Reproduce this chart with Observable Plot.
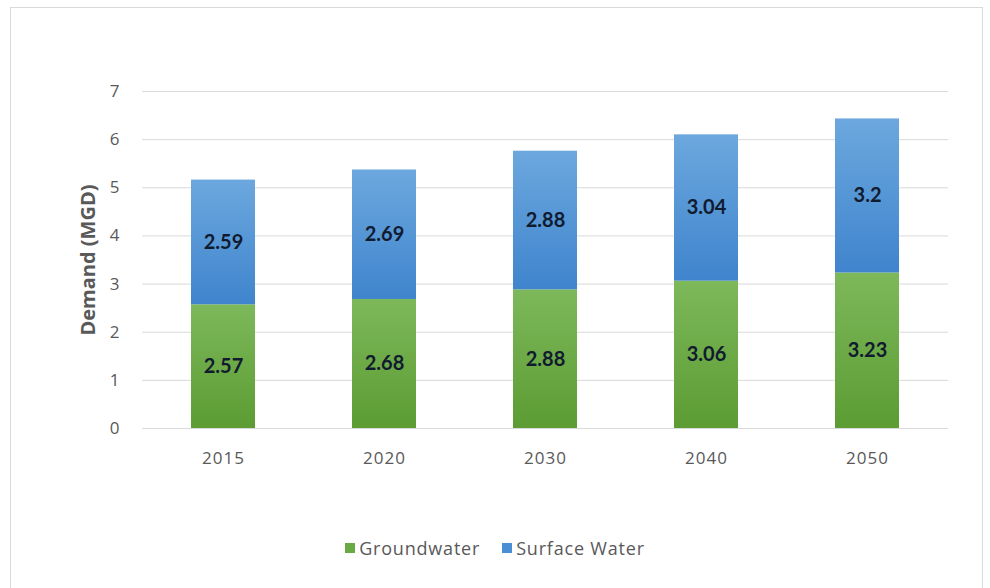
<!DOCTYPE html>
<html>
<head>
<meta charset="utf-8">
<script src="https://cdn.jsdelivr.net/npm/d3@7"></script>
<script src="https://cdn.jsdelivr.net/npm/@observablehq/plot@0.6"></script>
<style>
  html, body { margin: 0; padding: 0; background: #fff; }
  body { width: 990px; height: 588px; position: relative; overflow: hidden; font-family: "Open Sans", sans-serif; }
  #frame { position: absolute; left: 10px; top: 7px; width: 973px; height: 600px; border: 1px solid #d9d9d9; box-sizing: border-box; }
  #chart { position: absolute; left: 0; top: 0; }
  #legend { position: absolute; top: 536px; left: 0; width: 990px; display: flex; justify-content: center; font-size: 18px; color: #595959; letter-spacing: 0.8px; }
  .item { display: flex; align-items: center; margin: 0 11px; }
  .sw { width: 10px; height: 10px; margin-right: 4px; }
  g[aria-label="x-axis tick label"] text, g[aria-label="y-axis tick label"] text { letter-spacing: 1px; }
</style>
</head>
<body>
<div id="frame"></div>
<div id="chart"></div>
<div id="legend"></div>
<script>
const years = ["2015", "2020", "2030", "2040", "2050"];
const groundwater = [2.57, 2.68, 2.88, 3.06, 3.23];
const surfaceWater = [2.59, 2.69, 2.88, 3.04, 3.2];
const seriesNames = ["Groundwater", "Surface Water"];
const yTicks = [0, 1, 2, 3, 4, 5, 6, 7];

const rows = [];
years.forEach((y, i) => {
  rows.push({year: y, series: seriesNames[0], value: groundwater[i]});
  rows.push({year: y, series: seriesNames[1], value: surfaceWater[i]});
});

const fills = {"Groundwater": "url(#gGreen)", "Surface Water": "url(#gBlue)"};

const plot = Plot.plot({
  width: 990,
  height: 500,
  marginTop: 91,
  marginBottom: 72,
  marginLeft: 142,
  marginRight: 42,
  style: {fontFamily: "'Open Sans', sans-serif", background: "transparent"},
  x: {domain: years, paddingInner: 0.6, paddingOuter: 0.3, label: null},
  y: {domain: [0, 7], label: null},
  marks: [
    Plot.gridY(yTicks, {stroke: "#d9d9d9", strokeOpacity: 1}),
    Plot.axisY({ticks: yTicks, tickFormat: d => String(d), tickSize: 0, tickPadding: 22, fontSize: 17, color: "#595959", label: null}),
    Plot.text(["Demand (MGD)"], {frameAnchor: "left", textAnchor: "middle", dx: -54, rotate: -90, fontSize: 20, fontWeight: "bold", fill: "#595959"}),
    Plot.axisX({tickSize: 0, tickPadding: 23, fontSize: 17, color: "#595959", label: null}),
    Plot.barY(rows, Plot.stackY({x: "year", y: "value", z: "series", order: seriesNames, fill: d => fills[d.series]})),
    Plot.text(rows, Plot.stackY({x: "year", y: "value", z: "series", order: seriesNames, text: d => String(d.value), fontSize: 20, fontWeight: "bold", fontFamily: "Lato, sans-serif", fill: "#111b30"}))
  ]
});

const ns = "http://www.w3.org/2000/svg";
const defs = document.createElementNS(ns, "defs");
defs.innerHTML = `
<linearGradient id="gGreen" gradientUnits="objectBoundingBox" x1="0" y1="0" x2="0" y2="1">
  <stop offset="0" stop-color="#7db85a"/><stop offset="1" stop-color="#5c9c33"/>
</linearGradient>
<linearGradient id="gBlue" gradientUnits="objectBoundingBox" x1="0" y1="0" x2="0" y2="1">
  <stop offset="0" stop-color="#6ca8de"/><stop offset="1" stop-color="#3f84cd"/>
</linearGradient>`;
plot.insertBefore(defs, plot.firstChild);
document.getElementById("chart").appendChild(plot);

const legend = document.getElementById("legend");
const swatchColors = ["#6aaa44", "#4a8fd4"];
seriesNames.forEach((s, i) => {
  const it = document.createElement("div");
  it.className = "item";
  it.innerHTML = `<span class="sw" style="background:${swatchColors[i]}"></span><span>${s}</span>`;
  legend.appendChild(it);
});
</script>
</body>
</html>
